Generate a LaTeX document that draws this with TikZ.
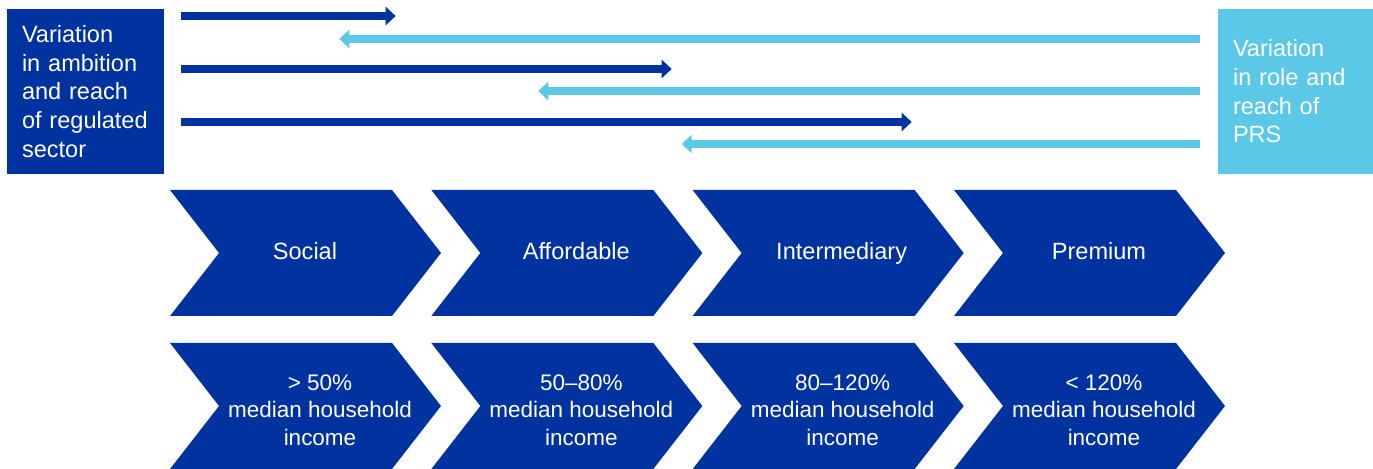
\documentclass[tikz,border=0pt]{standalone}
\usepackage{fontspec}
\setmainfont{Liberation Sans}
\usepackage{xcolor}
\usetikzlibrary{arrows.meta,positioning}
\definecolor{regblue}{HTML}{0033A0}
\definecolor{prsblue}{HTML}{5BC8E8}

\begin{document}
\begin{tikzpicture}[x=0.02cm,y=-0.02cm]
  \tikzset{ box/.style={inner xsep=0.3cm,inner ysep=0pt,text=white,align=left,minimum height=3.3cm,
      font=\fontsize{13.4}{16.3}\selectfont},
    ra/.style={regblue,line width=0.16cm,-{Triangle[length=0.2cm,width=0.36cm]}},
    pa/.style={ra,prsblue},
    lbl/.style={text=white,align=center,inner sep=0pt},
  }
  \useasboundingbox (0,0) rectangle (1373,469);

  \node[box,fill=regblue,text width=2.54cm] (R) at (85.5,91.5) {Variation\\ in ambition\\ and reach\\ of regulated\\ sector};
  \node[box,fill=prsblue,text width=2.5cm] (P) at (1295.5,91.5) {Variation\\ in role and\\ reach of\\ PRS};

  \coordinate (A1) at (181,16);   \coordinate (B1) at (395.7,16);
  \coordinate (A2) at (1200,39);  \coordinate (B2) at (339.3,39);
  \coordinate (A3) at (181,69);   \coordinate (B3) at (671.7,69);
  \coordinate (A4) at (1200,91);  \coordinate (B4) at (538.3,91);
  \coordinate (A5) at (181,122);  \coordinate (B5) at (911.7,122);
  \coordinate (A6) at (1200,144); \coordinate (B6) at (681.7,144);

  \draw[ra] (A1) -- (B1);
  \draw[pa] (A2) -- (B2);
  \draw[ra] (A3) -- (B3);
  \draw[pa] (A4) -- (B4);
  \draw[ra] (A5) -- (B5);
  \draw[pa] (A6) -- (B6);

  \foreach \tp/\bt/\dx [count=\i from 0] in {Social/> 50\%/135, Affordable/50--80\%/145,
      Intermediary/80--120\%/149, Premium/< 120\%/145}
  {
    \pgfmathsetmacro\L{170+261.33*\i}
    \fill[regblue] (\L,190) -- ++(222,0) -- ++(49,63) -- ++(-49,63) -- ++(-222,0) -- ++(49,-63) -- cycle;
    \fill[regblue] (\L,343) -- ++(222,0) -- ++(49,63) -- ++(-49,63) -- ++(-222,0) -- ++(49,-63) -- cycle;
    \node[lbl,anchor=base,font=\fontsize{13.4}{16.3}\selectfont] (t\i) at (\L+\dx,260) {\tp};
    \node[lbl,font=\fontsize{12.8}{15.65}\selectfont] (b\i) at (\L+150,410) {\bt\\ median household\\ income};
  }
\end{tikzpicture}
\end{document}
